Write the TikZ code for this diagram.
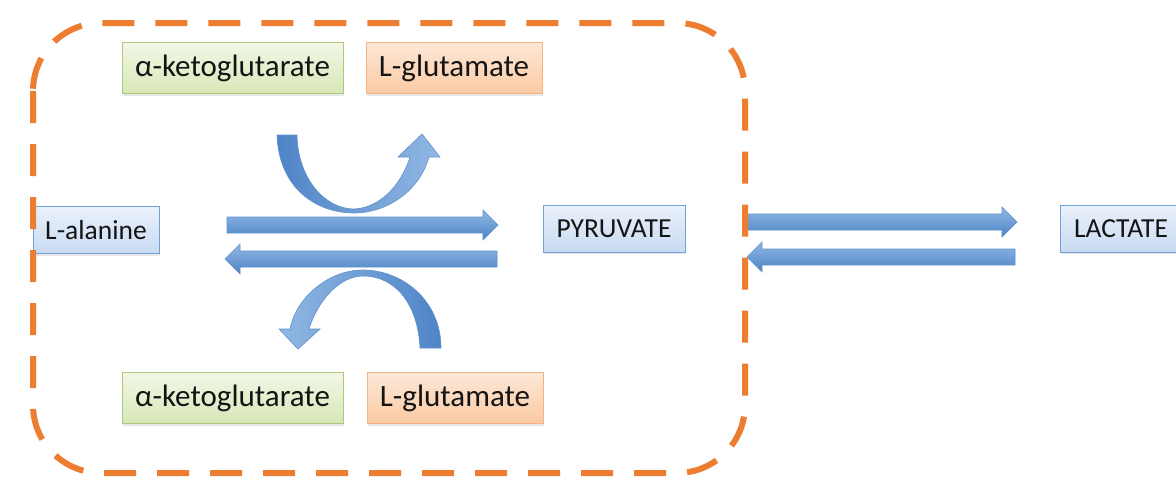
\documentclass[tikz,border=0pt]{standalone}
\usepackage{fontspec}
\setmainfont{Carlito}
\usetikzlibrary{shadows}
\definecolor{dashorange}{RGB}{237,125,49}
\definecolor{txt}{RGB}{20,20,20}
\definecolor{arrtop}{RGB}{145,184,228}
\definecolor{arrbot}{RGB}{78,132,198}
\definecolor{arrdraw}{RGB}{95,145,205}
\definecolor{gdraw}{RGB}{172,202,122}
\definecolor{gtop}{RGB}{242,247,230}
\definecolor{gbot}{RGB}{216,231,184}
\definecolor{odraw}{RGB}{246,178,128}
\definecolor{otop}{RGB}{253,232,214}
\definecolor{obot}{RGB}{250,202,164}
\definecolor{bdraw}{RGB}{112,162,216}
\definecolor{btop}{RGB}{234,241,251}
\definecolor{bbot}{RGB}{200,218,242}
\newcommand{\RightBlock}[3]{%
  \path[blockarr] (#1,#3-8) -- (#2-15,#3-8) -- (#2-15,#3-15) -- (#2,#3)
    -- (#2-15,#3+15) -- (#2-15,#3+8) -- (#1,#3+8) -- cycle;}
\newcommand{\LeftBlock}[3]{%
  \path[blockarr] (#2,#3-8) -- (#1+15,#3-8) -- (#1+15,#3-15) -- (#1,#3)
    -- (#1+15,#3+15) -- (#1+15,#3+8) -- (#2,#3+8) -- cycle;}
\begin{document}
\begin{tikzpicture}[x=1pt,y=-1pt,
  boxbase/.style={inner sep=0pt, text=txt, line width=1pt,
    drop shadow={opacity=0.18, shadow xshift=1pt, shadow yshift=-2pt}},
  gbox/.style={boxbase, draw=gdraw, top color=gtop, bottom color=gbot,
    minimum width=221pt, minimum height=51pt, font=\fontsize{31}{37}\selectfont},
  obox/.style={boxbase, draw=odraw, top color=otop, bottom color=obot,
    minimum width=176pt, minimum height=51pt, font=\fontsize{31}{37}\selectfont},
  bbox/.style={boxbase, draw=bdraw, top color=btop, bottom color=bbot,
    minimum height=47pt, font=\fontsize{27.5}{33}\selectfont},
  blockarr/.style={top color=arrtop, bottom color=arrbot, draw=arrdraw, line width=0.6pt},
  curvearr/.style={draw=arrdraw, line width=0.6pt},
  border/.style={draw=dashorange, line width=6pt, dash pattern=on 32pt off 21pt,
    rounded corners=68pt}
]
\useasboundingbox (0,0) rectangle (1176,477);
\fill[white] (0,0) rectangle (1176,477);

% straight block arrows
\RightBlock{227}{498}{225}
\LeftBlock{225}{497}{259}
\RightBlock{745}{1017}{222}
\LeftBlock{747}{1015}{257}

% upper curved arrow
\shade[curvearr, left color=arrbot, right color=arrtop]
  (277,135) .. controls (279,190) and (318,213) .. (354,213)
  .. controls (386,213) and (419,192) .. (429,157)
  -- (440,157) -- (422,134) -- (398,157) -- (410,157)
  .. controls (400,188) and (378,208) .. (354,209)
  .. controls (326,209) and (298,180) .. (297,135) -- cycle;

% lower curved arrow
\shade[curvearr, left color=arrtop, right color=arrbot]
  (441,348) .. controls (441,300) and (402,270) .. (363,270)
  .. controls (328,270) and (296,298) .. (290,329)
  -- (279,329) -- (298,349) -- (320,329) -- (309,329)
  .. controls (318,300) and (340,276) .. (363,276)
  .. controls (396,276) and (418,305) .. (420,348) -- cycle;

% boxes
\node[gbox] (kgtop) at (232.5,68) {α-ketoglutarate};
\node[obox] (glutop) at (454,68) {L-glutamate};
\node[gbox] (kgbot) at (232.5,398) {α-ketoglutarate};
\node[obox] (glubot) at (455,398) {L-glutamate};
\node[bbox, minimum width=126pt] (ala) at (96,230) {L-alanine};
\node[bbox, minimum width=142pt] (pyr) at (614,228.5) {PYRUVATE};
\node[bbox, minimum width=122pt] (lac) at (1121,228.5) {LACTATE};

% dashed border
\path[border] (33,23) rectangle (745,473);
\end{tikzpicture}
\end{document}
